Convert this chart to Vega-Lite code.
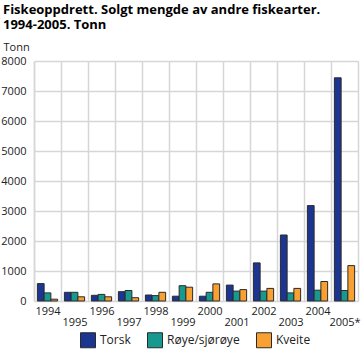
{
  "$schema": "https://vega.github.io/schema/vega-lite/v6.json",
  "autosize": "none",
  "width": 324,
  "height": 240,
  "padding": {"left": 34, "top": 61, "right": 5, "bottom": 55},
  "background": "white",
  "title": {
    "text": ["Fiskeoppdrett. Solgt mengde av andre fiskearter.", "1994-2005. Tonn"],
    "anchor": "start",
    "frame": "group",
    "dx": -31,
    "offset": 9,
    "font": "Open Sans",
    "fontSize": 13,
    "fontWeight": "bold",
    "color": "#000",
    "lineHeight": 15
  },
  "data": {
    "values": [
      {"year": "1994", "art": "Torsk", "tonn": 580},
      {"year": "1994", "art": "Røye/sjørøye", "tonn": 270},
      {"year": "1994", "art": "Kveite", "tonn": 60},
      {"year": "1995", "art": "Torsk", "tonn": 290},
      {"year": "1995", "art": "Røye/sjørøye", "tonn": 290},
      {"year": "1995", "art": "Kveite", "tonn": 140},
      {"year": "1996", "art": "Torsk", "tonn": 190},
      {"year": "1996", "art": "Røye/sjørøye", "tonn": 220},
      {"year": "1996", "art": "Kveite", "tonn": 140},
      {"year": "1997", "art": "Torsk", "tonn": 310},
      {"year": "1997", "art": "Røye/sjørøye", "tonn": 350},
      {"year": "1997", "art": "Kveite", "tonn": 110},
      {"year": "1998", "art": "Torsk", "tonn": 200},
      {"year": "1998", "art": "Røye/sjørøye", "tonn": 180},
      {"year": "1998", "art": "Kveite", "tonn": 290},
      {"year": "1999", "art": "Torsk", "tonn": 160},
      {"year": "1999", "art": "Røye/sjørøye", "tonn": 510},
      {"year": "1999", "art": "Kveite", "tonn": 460},
      {"year": "2000", "art": "Torsk", "tonn": 160},
      {"year": "2000", "art": "Røye/sjørøye", "tonn": 290},
      {"year": "2000", "art": "Kveite", "tonn": 570},
      {"year": "2001", "art": "Torsk", "tonn": 530},
      {"year": "2001", "art": "Røye/sjørøye", "tonn": 330},
      {"year": "2001", "art": "Kveite", "tonn": 380},
      {"year": "2002", "art": "Torsk", "tonn": 1270},
      {"year": "2002", "art": "Røye/sjørøye", "tonn": 330},
      {"year": "2002", "art": "Kveite", "tonn": 420},
      {"year": "2003", "art": "Torsk", "tonn": 2200},
      {"year": "2003", "art": "Røye/sjørøye", "tonn": 270},
      {"year": "2003", "art": "Kveite", "tonn": 420},
      {"year": "2004", "art": "Torsk", "tonn": 3180},
      {"year": "2004", "art": "Røye/sjørøye", "tonn": 360},
      {"year": "2004", "art": "Kveite", "tonn": 650},
      {"year": "2005*", "art": "Torsk", "tonn": 7440},
      {"year": "2005*", "art": "Røye/sjørøye", "tonn": 350},
      {"year": "2005*", "art": "Kveite", "tonn": 1180}
    ]
  },
  "mark": {"type": "bar", "stroke": "#2a2a2a", "strokeWidth": 1},
  "encoding": {
    "x": {
      "field": "year",
      "type": "nominal",
      "scale": {"paddingInner": 0, "paddingOuter": 0},
      "axis": {
        "title": null,
        "tickBand": "extent",
        "grid": true,
        "gridColor": "#d6d6d6",
        "gridWidth": 1.5,
        "ticks": false,
        "domain": false,
        "labelAngle": 0,
        "labelPadding": {"condition": {"test": "indexof(['1995','1997','1999','2001','2003','2005*'], datum.value) >= 0", "value": 15}, "value": 4},
        "labelFont": "Open Sans",
        "labelFontSize": 11,
        "labelColor": "#222"
      }
    },
    "xOffset": {
      "field": "art",
      "type": "nominal",
      "sort": ["Torsk", "Røye/sjørøye", "Kveite"],
      "scale": {"paddingInner": 0, "paddingOuter": 0.5}
    },
    "y": {
      "field": "tonn",
      "type": "quantitative",
      "scale": {"domain": [0, 8000], "nice": false},
      "axis": {
        "title": "Tonn",
        "titleAngle": 0,
        "titleAlign": "left",
        "titleBaseline": "alphabetic",
        "titleX": -31,
        "titleY": -11,
        "titleFont": "Open Sans",
        "titleFontSize": 11,
        "titleFontWeight": "normal",
        "titleColor": "#222",
        "values": [0, 1000, 2000, 3000, 4000, 5000, 6000, 7000, 8000],
        "format": "d",
        "ticks": false,
        "labelPadding": 8,
        "labelFont": "Open Sans",
        "labelFontSize": 11,
        "labelColor": "#222",
        "grid": true,
        "gridColor": "#d6d6d6",
        "gridWidth": 1.5,
        "domainColor": "#d6d6d6",
        "domainWidth": 1.5
      }
    },
    "color": {
      "field": "art",
      "type": "nominal",
      "sort": ["Torsk", "Røye/sjørøye", "Kveite"],
      "scale": {"domain": ["Torsk", "Røye/sjørøye", "Kveite"], "range": ["#1c3591", "#17998f", "#f9a032"]},
      "legend": {
        "title": null,
        "orient": "none",
        "legendX": 46,
        "legendY": 271,
        "direction": "horizontal",
        "symbolType": "square",
        "symbolSize": 225,
        "symbolStrokeColor": "#2a2a2a",
        "symbolStrokeWidth": 1,
        "symbolOpacity": 1,
        "labelFont": "Open Sans",
        "labelFontSize": 12,
        "labelColor": "#222",
        "labelOffset": 4,
        "columnPadding": 14
      }
    }
  },
  "config": {"view": {"stroke": null}}
}
